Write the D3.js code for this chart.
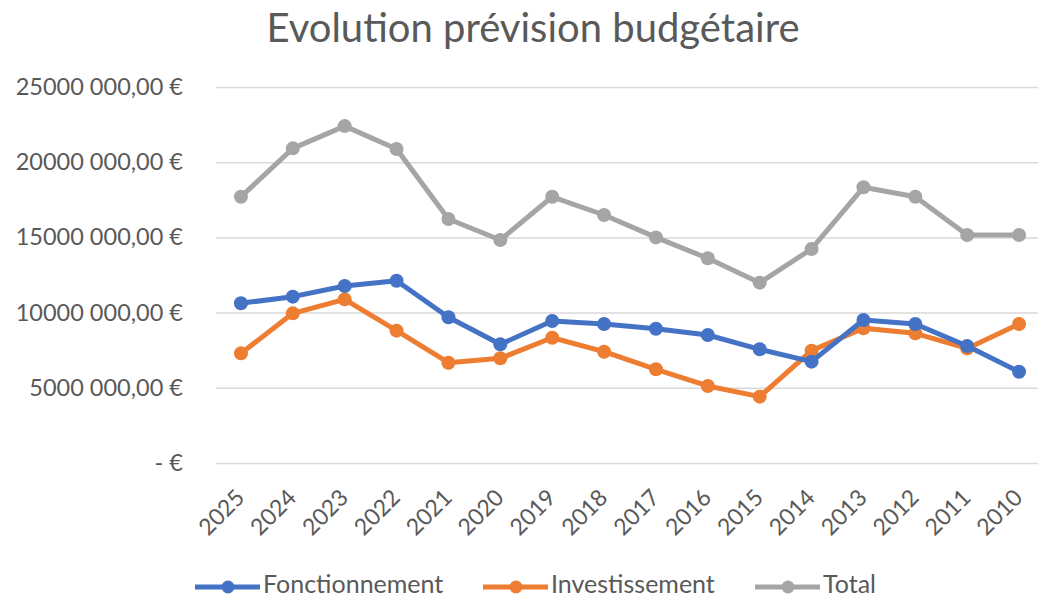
<!DOCTYPE html>
<html><head><meta charset="utf-8">
<script src="https://cdn.jsdelivr.net/npm/d3@7"></script>
<style>body{margin:0;background:#fff}svg{display:block}text{font-family:Lato,"Open Sans",sans-serif;fill:#595959}</style>
</head><body><svg id="c" width="1038" height="598"></svg>
<script>
const years = ["2025","2024","2023","2022","2021","2020","2019","2018","2017","2016","2015","2014","2013","2012","2011","2010"];
const fonctionnement = [10620000,11060000,11770000,12120000,9690000,7890000,9440000,9240000,8930000,8510000,7560000,6740000,9510000,9240000,7780000,6070000];
const investissement = [7290000,9950000,10880000,8800000,6670000,6960000,8330000,7400000,6230000,5120000,4410000,7470000,8960000,8620000,7620000,9240000];
const total = [17700000,20920000,22400000,20880000,16220000,14830000,17700000,16490000,15000000,13610000,11990000,14230000,18330000,17700000,15160000,15160000];
const yTicks = [0,5000000,10000000,15000000,20000000,25000000];
const seriesNames = ["Fonctionnement","Investissement","Total"];
const colors = ["#4472C4","#ED7D31","#A5A5A5"];
const title = "Evolution prévision budgétaire";

const svg = d3.select("#c");
const x = d3.scaleBand().domain(years).range([215,1045]);
const y = d3.scaleLinear().domain([0,25000000]).range([463,87]);

svg.append("text").attr("x",533).attr("y",42).attr("text-anchor","middle")
  .style("font-size","40px").text(title);

const yAxis = svg.append("g").attr("transform","translate(216,0)")
  .call(d3.axisLeft(y).tickValues(yTicks).tickSize(-822).tickPadding(33)
    .tickFormat(v => v===0 ? "- €" : (v/1000) + " 000,00 €"));
yAxis.select(".domain").remove();
yAxis.selectAll("line").attr("stroke","#D9D9D9").attr("stroke-width",1.5);
yAxis.selectAll("text").style("font-size","23.5px").style("font-family","Lato,'Open Sans',sans-serif").attr("fill","#595959");

const xAxis = svg.append("g").attr("transform","translate(0,463)")
  .call(d3.axisBottom(x).tickSize(0));
xAxis.select(".domain").remove();
xAxis.selectAll("text").style("font-size","23px").style("font-family","Lato,'Open Sans',sans-serif").attr("fill","#595959")
  .attr("text-anchor","end").attr("x",0).attr("y",0).attr("dy",null)
  .attr("transform","translate(5,36) rotate(-45)");

const cx = d => x(d) + x.bandwidth()/2;
const data = [fonctionnement, investissement, total];
const line = d3.line().x((d,i)=>cx(years[i])).y(d=>y(d));
[2,1,0].forEach(k=>{
  const g = svg.append("g");
  g.append("path").datum(data[k]).attr("d",line).attr("fill","none")
    .attr("stroke",colors[k]).attr("stroke-width",5).attr("stroke-linejoin","round");
  g.selectAll("circle").data(data[k]).join("circle")
    .attr("cx",(d,i)=>cx(years[i])).attr("cy",d=>y(d)).attr("r",7).attr("fill",colors[k]);
});

const legX = [195,483,755];
seriesNames.forEach((n,k)=>{
  const g = svg.append("g").attr("transform",`translate(${legX[k]},587)`);
  g.append("line").attr("x1",0).attr("x2",65).attr("stroke",colors[k]).attr("stroke-width",5);
  g.append("circle").attr("cx",33).attr("r",6.5).attr("fill",colors[k]);
  g.append("text").attr("x",68).attr("y",6).style("font-size","25px").text(n);
});
</script></body></html>
